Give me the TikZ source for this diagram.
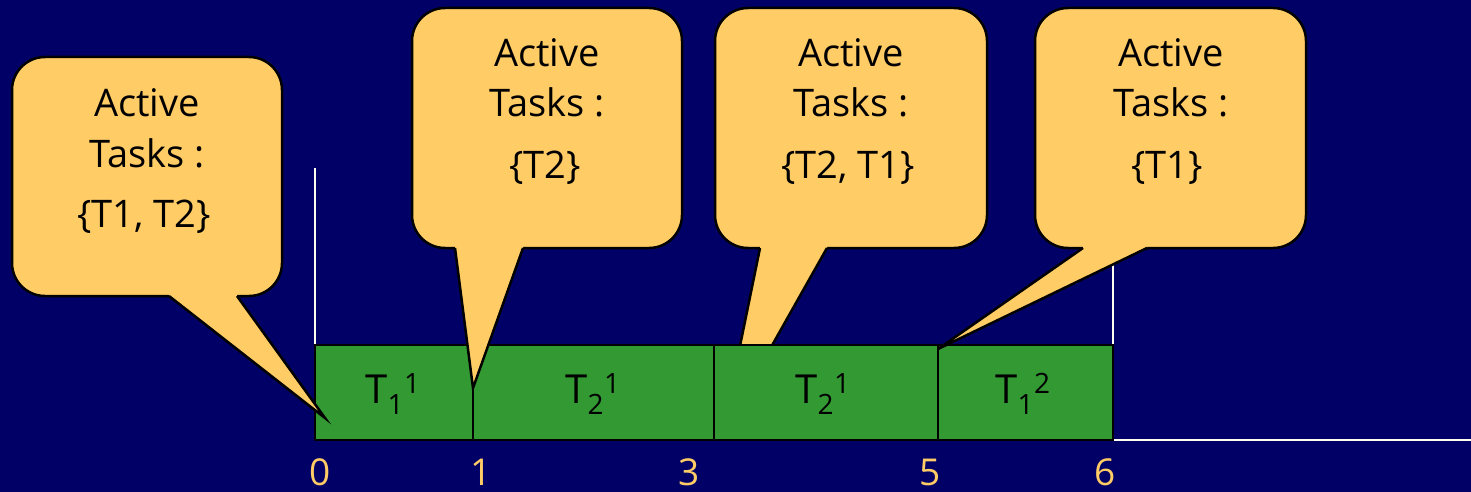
\documentclass[tikz,border=0pt]{standalone}
\usepackage{fontspec}
\setmainfont{Open Sans}
\definecolor{navy}{HTML}{000066}
\definecolor{calloutfill}{HTML}{FFCC66}
\definecolor{taskgreen}{HTML}{339933}
\definecolor{axiswhite}{HTML}{FFFFF0}
\tikzset{
  bubble/.style={fill=calloutfill,draw=black,line width=2.5pt,rounded corners=33pt},
  tailfill/.style={fill=calloutfill},
  tailedge/.style={draw=black,line width=2.5pt,line join=miter},
  bubbletext/.style={anchor=base,inner sep=0pt,font=\fontsize{38}{40}\selectfont},
  cell/.style={fill=taskgreen,draw=black,line width=1.8pt,inner sep=0pt,outer sep=0pt,minimum height=95pt},
  celltext/.style={anchor=base,inner sep=0pt,font=\fontsize{40}{42}\selectfont},
  ticktext/.style={anchor=base,inner sep=0pt,text=calloutfill,font=\fontsize{37}{38}\selectfont},
  axis/.style={draw=axiswhite,line width=2pt}
}
\newcommand{\bubbleshape}[8]{%
  \draw[bubble] (#1,#2) rectangle (#3,#4);
  \fill[tailfill] (#5,#4-6) -- (#5,#4) -- (#7,#8) -- (#6,#4) -- (#6,#4-6) -- cycle;
  \draw[tailedge] (#5,#4) -- (#7,#8) -- (#6,#4);
}
\begin{document}
\begin{tikzpicture}[x=1pt,y=-1pt]
\useasboundingbox (0,0) rectangle (1471,492);
\fill[navy] (0,0) rectangle (1471,492);
% axes
\coordinate (ax0top) at (315,168);
\coordinate (ax0bot) at (315,345);
\coordinate (ax6top) at (1113,168);
\coordinate (ax6bot) at (1113,440);
\coordinate (axend) at (1471,440);
\draw[axis] (ax0top) -- (ax0bot);
\draw[axis] (ax6top) -- (ax6bot) -- (axend);
% callout 3 (behind the bar)
\bubbleshape{715}{8}{987}{248}{760}{827}{722}{434}
% task bars
\node[cell,minimum width=158pt] (c1) at (394,392.5) {};
\node[cell,minimum width=241pt] (c2) at (593.5,392.5) {};
\node[cell,minimum width=224pt] (c3) at (826,392.5) {};
\node[cell,minimum width=175pt] (c4) at (1025.5,392.5) {};
\node[celltext] (l1) at (393,403) {T\textsubscript{1}\textsuperscript{1}};
\node[celltext] (l2) at (593,403) {T\textsubscript{2}\textsuperscript{1}};
\node[celltext] (l3) at (823,403) {T\textsubscript{2}\textsuperscript{1}};
\node[celltext] (l4) at (1023,403) {T\textsubscript{1}\textsuperscript{2}};
% callouts in front
\bubbleshape{12}{57}{282}{296}{169}{237}{325}{418}
\bubbleshape{412}{8}{682}{248}{455}{523}{473}{388}
\bubbleshape{1035}{8}{1306}{248}{1083}{1147}{938}{349}
% callout texts
\node[bubbletext] (b1a) at (147,117) {Active};
\node[bubbletext] (b1b) at (147,167) {Tasks :};
\node[bubbletext] (b1c) at (144,227) {\{T1, T2\}};
\node[bubbletext] (b2a) at (547,67) {Active};
\node[bubbletext] (b2b) at (547,117) {Tasks :};
\node[bubbletext] (b2c) at (545,178) {\{T2\}};
\node[bubbletext] (b3a) at (851,67) {Active};
\node[bubbletext] (b3b) at (851,117) {Tasks :};
\node[bubbletext] (b3c) at (848,178) {\{T2, T1\}};
\node[bubbletext] (b4a) at (1171,67) {Active};
\node[bubbletext] (b4b) at (1171,117) {Tasks :};
\node[bubbletext] (b4c) at (1167,178) {\{T1\}};
% tick labels
\node[ticktext] (t0) at (320,485) {0};
\node[ticktext] (t1) at (481,485) {1};
\node[ticktext] (t3) at (689,485) {3};
\node[ticktext] (t5) at (930,485) {5};
\node[ticktext] (t6) at (1105,485) {6};
\end{tikzpicture}
\end{document}
